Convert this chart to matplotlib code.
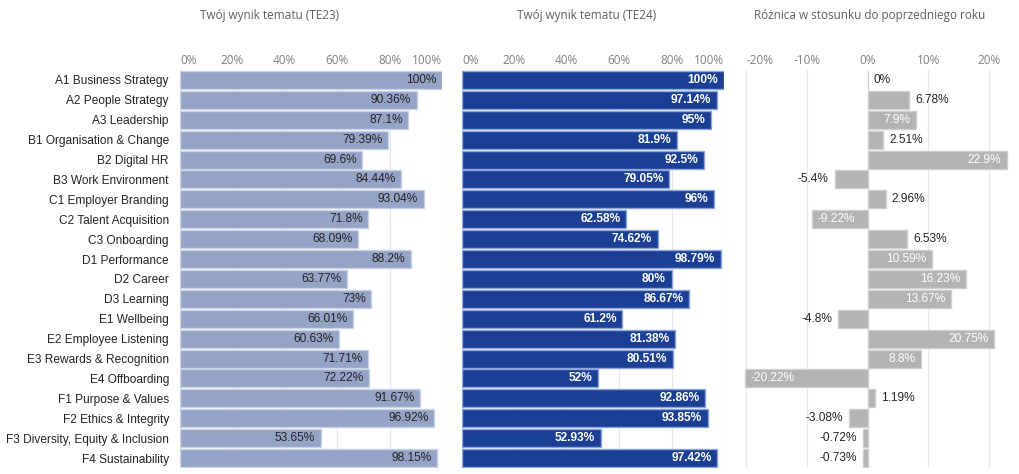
import numpy as np
import matplotlib.pyplot as plt

categories = ["A1 Business Strategy", "A2 People Strategy", "A3 Leadership",
              "B1 Organisation & Change", "B2 Digital HR", "B3 Work Environment",
              "C1 Employer Branding", "C2 Talent Acquisition", "C3 Onboarding",
              "D1 Performance", "D2 Career", "D3 Learning", "E1 Wellbeing",
              "E2 Employee Listening", "E3 Rewards & Recognition", "E4 Offboarding",
              "F1 Purpose & Values", "F2 Ethics & Integrity",
              "F3 Diversity, Equity & Inclusion", "F4 Sustainability"]
te23 = [100, 90.36, 87.1, 79.39, 69.6, 84.44, 93.04, 71.8, 68.09, 88.2,
        63.77, 73, 66.01, 60.63, 71.71, 72.22, 91.67, 96.92, 53.65, 98.15]
te24 = [100, 97.14, 95, 81.9, 92.5, 79.05, 96, 62.58, 74.62, 98.79,
        80, 86.67, 61.2, 81.38, 80.51, 52, 92.86, 93.85, 52.93, 97.42]
diff = [0, 6.78, 7.9, 2.51, 22.9, -5.4, 2.96, -9.22, 6.53, 10.59,
        16.23, 13.67, -4.8, 20.75, 8.8, -20.22, 1.19, -3.08, -0.72, -0.73]
titles = ["Twój wynik tematu (TE23)", "Twój wynik tematu (TE24)",
          "Różnica w stosunku do poprzedniego roku"]

W, H = 1019, 474
fig = plt.figure(figsize=(W / 100, H / 100), dpi=100)

def px_axes(x0, x1, y0, y1):
    return fig.add_axes([x0 / W, 1 - y1 / H, (x1 - x0) / W, (y1 - y0) / H])

LBL = "Liberation Sans"
TFONT = "Open Sans"
GRID = "#e8e8e8"
TICKC = "#808080"
n = len(categories)
y = np.arange(n)

def style(ax, ticks, ticklabels, xlim):
    ax.set_xlim(*xlim)
    ax.set_ylim(n - 0.5, -0.5)
    ax.xaxis.tick_top()
    ax.set_xticks(ticks)
    ax.set_xticklabels(ticklabels, fontsize=8.5, color=TICKC, family=TFONT)
    ax.tick_params(axis="x", length=0, pad=2.5)
    ax.grid(axis="x", color=GRID, lw=0.9)
    ax.set_axisbelow(True)
    for s in ax.spines.values():
        s.set_visible(False)

ax1 = px_axes(180, 442, 70, 468)
ax1.barh(y, te23, height=0.9, color="#94a3c6", edgecolor="#c9d3e8", lw=1)
style(ax1, [0, 20, 40, 60, 80, 100], ["0%", "20%", "40%", "60%", "80%", "100%"], (0, 100))
ax1.set_yticks(y)
ax1.set_yticklabels(categories, fontsize=8.6, color="#252423", family=LBL)
ax1.tick_params(axis="y", length=0, pad=8)
tl = ax1.get_xticklabels()
tl[0].set_ha("left")
tl[-1].set_ha("right")
for i, v in enumerate(te23):
    ax1.annotate(f"{v:g}%", (v, i), xytext=(-4, 0), textcoords="offset points",
                 ha="right", va="center", fontsize=8.6, color="#252423", family=LBL)

ax2 = px_axes(462, 724, 70, 468)
ax2.barh(y, te24, height=0.9, color="#1a3f94", edgecolor="#8ba6dc", lw=1)
style(ax2, [0, 20, 40, 60, 80, 100], ["0%", "20%", "40%", "60%", "80%", "100%"], (0, 100))
ax2.set_yticks([])
tl = ax2.get_xticklabels()
tl[0].set_ha("left")
tl[-1].set_ha("right")
for i, v in enumerate(te24):
    ax2.annotate(f"{v:g}%", (v, i), xytext=(-4, 0), textcoords="offset points",
                 ha="right", va="center", fontsize=8.6, color="white",
                 fontweight="bold", family=LBL)

ax3 = px_axes(743, 1009, 70, 468)
ax3.barh(y, diff, height=0.9, color="#b3b3b3", edgecolor="#cfcfcf", lw=1)
style(ax3, [-20, -10, 0, 10, 20], ["-20%", "-10%", "0%", "10%", "20%"], (-20.5, 23.25))
ax3.set_yticks([])
ax3.get_xticklabels()[0].set_ha("left")
for i, v in enumerate(diff):
    inside = abs(v) >= 7.5
    sign = 1 if v >= 0 else -1
    if inside:
        off, ha, c = -4 * sign, ("right" if v >= 0 else "left"), "white"
    else:
        off, ha, c = 4.5 * sign, ("left" if v >= 0 else "right"), "#252423"
    ax3.annotate(f"{v:g}%", (v, i), xytext=(off, 0), textcoords="offset points",
                 ha=ha, va="center", fontsize=8.6, color=c, family=LBL)

for xc, t in zip([270, 587, 870], titles):
    fig.text(xc / W, 1 - 16 / H, t, ha="center", va="center", fontsize=8.5,
             color="#605e5c", family=TFONT)

fig.savefig("out.png", dpi=100)
